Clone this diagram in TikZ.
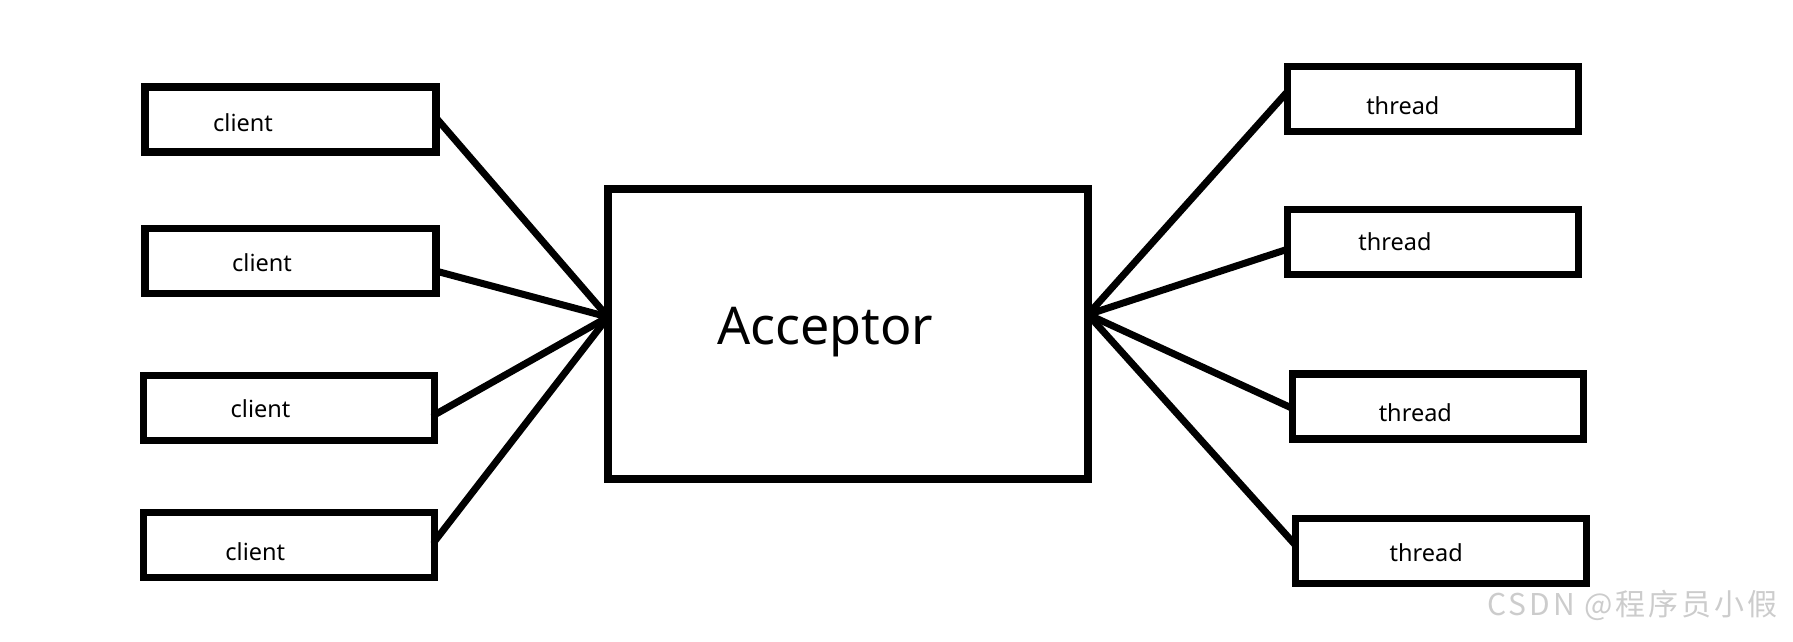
\documentclass[tikz,border=0pt]{standalone}
\usepackage{fontspec}
\setmainfont{Noto Sans}
\newfontfamily\cjkfont[LetterSpace=10]{Noto Sans CJK SC}
\usetikzlibrary{calc}
\begin{document}
\begin{tikzpicture}[x=1pt,y=-1pt,
  box/.style={draw=black,line width=7.5pt,rectangle,inner sep=0pt,outer sep=0pt,minimum width=291pt,minimum height=65pt},
  accbox/.style={draw=black,line width=8pt,rectangle,inner sep=0pt,outer sep=0pt,minimum width=480pt,minimum height=290pt},
  lbl/.style={anchor=base,inner sep=0pt,font=\fontsize{23.5}{23.5}\selectfont},
  acclbl/.style={anchor=base,inner sep=0pt,font=\fontsize{52}{52}\selectfont},
  link/.style={line width=7pt,line cap=round},
  wm/.style={anchor=base west,inner sep=0pt,text=black!20,font=\cjkfont\fontsize{30}{30}\selectfont}]
\useasboundingbox (0,0) rectangle (1793,642);
% clients
\node[box] (c1) at (290.25,119.5) {};
\node[box] (c2) at (290.25,261) {};
\node[box] (c3) at (288.75,408) {};
\node[box] (c4) at (288.75,544.75) {};
\node[lbl] (c1t) at (243,131.7) {client};
\node[lbl] (c2t) at (262,271.7) {client};
\node[lbl] (c3t) at (260.5,417) {client};
\node[lbl] (c4t) at (255.3,560) {client};
% acceptor
\node[accbox] (acc) at (848,333.5) {};
\node[acclbl] (acct) at (825.3,344) {Acceptor};
% threads
\node[box] (t1) at (1432.8,98.8) {};
\node[box] (t2) at (1432.8,242) {};
\node[box] (t3) at (1437.8,406.3) {};
\node[box] (t4) at (1440.8,551.2) {};
\node[lbl] (t1t) at (1402.8,114) {thread};
\node[lbl] (t2t) at (1395,250) {thread};
\node[lbl] (t3t) at (1415.3,421.7) {thread};
\node[lbl] (t4t) at (1426.2,561.7) {thread};
% connection points on the acceptor
\coordinate (accL) at ([yshift=16.5pt]acc.west);
\coordinate (accR) at ([yshift=19pt]acc.east);
% links
\draw[link] ([yshift=2pt]c1.east) -- (accL);
\draw[link] ([yshift=-10pt]c2.east) -- (accL);
\draw[link] ([yshift=-7pt]c3.east) -- (accL);
\draw[link] ([yshift=3pt]c4.east) -- (accL);
\draw[link] ([yshift=7pt]t1.west) -- (accR);
\draw[link] ([yshift=-7.3pt]t2.west) -- (accR);
\draw[link] ([yshift=-2pt]t3.west) -- (accR);
\draw[link] ([yshift=6.2pt]t4.west) -- (accR);
% watermark
\node[wm] (wm) at (1487,615) {CSDN @程序员小假};
\end{tikzpicture}
\end{document}
